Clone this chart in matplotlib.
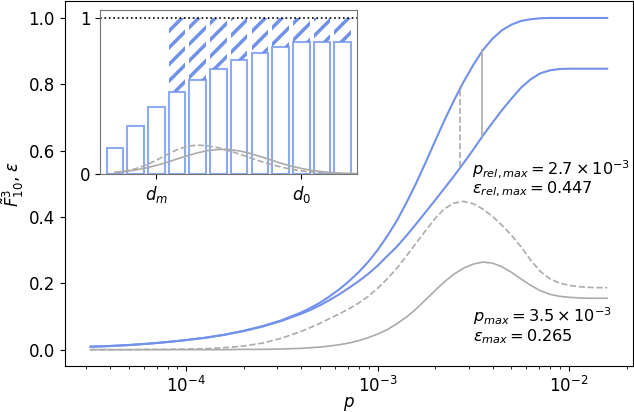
import matplotlib.pyplot as plt
import numpy as np

# ---- main panel data ----
log_p = [-4.5, -4.4, -4.3, -4.2, -4.1, -4.0, -3.9, -3.8, -3.7, -3.6, -3.5,
         -3.4, -3.35, -3.3, -3.25, -3.2, -3.15, -3.1, -3.05, -3.0, -2.95,
         -2.9, -2.85, -2.8, -2.75, -2.7, -2.65, -2.6, -2.55, -2.5, -2.45,
         -2.4, -2.35, -2.3, -2.25, -2.2, -2.15, -2.1, -2.05, -2.0, -1.95,
         -1.9, -1.85, -1.8]

f_upper = [0.009, 0.011, 0.014, 0.018, 0.023, 0.029, 0.036, 0.045, 0.057, 0.071, 0.089,
           0.112, 0.126, 0.142, 0.161, 0.182, 0.206, 0.233, 0.264, 0.300, 0.342,
           0.388, 0.442, 0.500, 0.563, 0.628, 0.692, 0.752, 0.808, 0.858, 0.903,
           0.937, 0.963, 0.980, 0.991, 0.996, 0.999, 1.000, 1.000, 1.000, 1.000,
           1.000, 1.000, 1.000]

f_lower = [0.009, 0.011, 0.014, 0.018, 0.023, 0.029, 0.036, 0.045, 0.056, 0.070, 0.087,
           0.108, 0.120, 0.134, 0.150, 0.167, 0.186, 0.206, 0.228, 0.253, 0.282,
           0.310, 0.343, 0.378, 0.414, 0.450, 0.487, 0.524, 0.563, 0.603, 0.645,
           0.684, 0.722, 0.757, 0.790, 0.815, 0.833, 0.842, 0.846, 0.847, 0.847,
           0.847, 0.847, 0.847]

eps_abs = [0.000, 0.000, 0.000, 0.000, 0.000, 0.000, 0.000, 0.000, 0.001, 0.001, 0.002,
           0.004, 0.006, 0.008, 0.011, 0.015, 0.020, 0.027, 0.036, 0.047, 0.060,
           0.078, 0.098, 0.122, 0.150, 0.178, 0.205, 0.228, 0.246, 0.258, 0.264,
           0.261, 0.250, 0.233, 0.213, 0.194, 0.178, 0.167, 0.161, 0.158, 0.156,
           0.155, 0.155, 0.155]

eps_rel = [0.000, 0.000, 0.000, 0.001, 0.001, 0.002, 0.003, 0.006, 0.011, 0.020, 0.035,
           0.055, 0.067, 0.080, 0.094, 0.108, 0.123, 0.140, 0.160, 0.185, 0.213,
           0.245, 0.282, 0.320, 0.358, 0.395, 0.425, 0.442, 0.447, 0.440, 0.424,
           0.402, 0.375, 0.345, 0.310, 0.270, 0.236, 0.214, 0.201, 0.194, 0.190,
           0.188, 0.187, 0.187]

# markers of the two maxima: p, lower value, upper value
p_rel_max, lo_rel, hi_rel = 2.7e-3, 0.552, 0.795
p_max, lo_max, hi_max = 3.5e-3, 0.642, 0.906

# ---- inset data ----
bar_idx = list(range(12))
bar_heights = [0.169, 0.308, 0.426, 0.522, 0.604, 0.672, 0.728, 0.775, 0.811, 0.843, 0.843, 0.843]
first_hatched = 3

d_grid = [0, 0.5, 1, 1.5, 2, 2.5, 3, 3.5, 4, 4.5, 5, 5.5, 6, 6.5, 7, 7.5, 8, 8.5,
          9, 9.5, 10, 10.5, 11, 11.5, 12]
dist_solid = [0.010, 0.016, 0.026, 0.038, 0.055, 0.074, 0.096, 0.117, 0.136, 0.150,
              0.157, 0.157, 0.148, 0.133, 0.113, 0.092, 0.070, 0.051, 0.036, 0.023,
              0.015, 0.009, 0.005, 0.003, 0.001]
dist_dashed = [0.009, 0.018, 0.034, 0.057, 0.088, 0.123, 0.155, 0.178, 0.185, 0.180,
               0.168, 0.150, 0.128, 0.105, 0.083, 0.062, 0.045, 0.031, 0.020, 0.013,
               0.008, 0.005, 0.003, 0.002, 0.001]
tick_pos = [2, 9]
tick_names = ['$d_m$', '$d_0$']

blue = '#7191ea'
bar_blue = '#8eaaf2'
gray = '#ababab'

plt.rcParams['font.size'] = 12
plt.rcParams['hatch.linewidth'] = 2.5

fig = plt.figure(figsize=(6.34, 4.12), dpi=100)
ax = fig.add_axes([0.102, 0.111, 0.8965, 0.8857])

p = 10 ** np.array(log_p)
ax.plot(p, f_upper, color=blue, lw=1.5)
ax.plot(p, f_lower, color=blue, lw=1.5)
ax.plot(p, eps_rel, color=gray, lw=1.2, ls='--')
ax.plot(p, eps_abs, color=gray, lw=1.2)
ax.vlines(p_rel_max, lo_rel, hi_rel, color=gray, lw=1.2, ls='--')
ax.vlines(p_max, lo_max, hi_max, color=gray, lw=1.2)
ax.set_xscale('log')

ax.text(3.1e-3, 0.530, r'$p_{rel,max} = 2.7 \times 10^{-3}$', fontsize=11.6, va='baseline')
ax.text(3.1e-3, 0.472, r'$\epsilon_{rel,max} = 0.447$', fontsize=11.6, va='baseline')
ax.text(3.15e-3, 0.082, r'$p_{max} = 3.5 \times 10^{-3}$', fontsize=11.6, va='baseline')
ax.text(3.15e-3, 0.026, r'$\epsilon_{max} = 0.265$', fontsize=11.6, va='baseline')

ax.set_xlabel('$p$', labelpad=-1)
ax.set_ylabel(r'$\tilde{F}^{3}_{10}$, $\epsilon$', labelpad=2)

# ---- inset ----
axin = fig.add_axes([100 / 634, 1 - 174 / 412, 256.7 / 634, 164 / 412])
axin.bar(bar_idx, bar_heights, width=0.8, fill=False, edgecolor=bar_blue, lw=1.5)
hb = bar_heights[first_hatched:]
axin.bar(bar_idx[first_hatched:], [1 - h for h in hb], bottom=hb, width=0.8,
         fill=False, hatch='//', edgecolor=blue, lw=0)
axin.plot(d_grid, dist_dashed, color=gray, lw=1.2, ls='--')
axin.plot(d_grid, dist_solid, color=gray, lw=1.2)
axin.axhline(1, color='k', ls=':', lw=1.2)
axin.set_xlim(-0.72, 11.68)
axin.set_ylim(0, 1.05)
axin.set_yticks([0, 1])
axin.set_yticklabels(['0', '1'])
axin.set_xticks(tick_pos)
axin.set_xticklabels(tick_names)
for s in axin.spines.values():
    s.set_color('0.45')

fig.savefig('out.png', dpi=100)
